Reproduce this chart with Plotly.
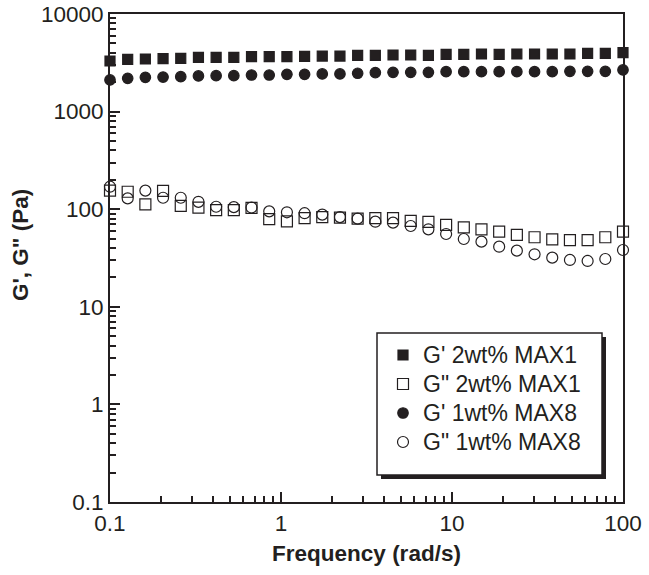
import plotly.graph_objects as go

# frequency sweep (rad/s)
freq = [0.1, 0.1269, 0.1610, 0.2043, 0.2593, 0.3290, 0.4175, 0.5298, 0.6723, 0.8532,
        1.083, 1.374, 1.743, 2.212, 2.807, 3.562, 4.520, 5.736, 7.279, 9.237,
        11.72, 14.87, 18.87, 23.95, 30.39, 38.57, 48.94, 62.10, 78.80, 100.0]

# G' 2wt% MAX1 (filled squares)
gp_max1 = [3300, 3430, 3460, 3490, 3510, 3600, 3600, 3600, 3650, 3650,
           3650, 3680, 3710, 3710, 3770, 3770, 3800, 3800, 3770, 3860,
           3860, 3890, 3860, 3890, 3890, 3890, 3890, 3950, 3950, 4020]
# G'' 2wt% MAX1 (open squares)
gpp_max1 = [155, 151, 112, 154, 108, 104, 98, 98, 103, 79,
            75, 81, 83, 82, 80, 81, 81, 76, 74, 69,
            65, 62, 59, 54.5, 51.6, 49, 48.3, 48.3, 51.6, 59]
# G' 1wt% MAX8 (filled circles)
gp_max8 = [2110, 2190, 2245, 2260, 2280, 2320, 2335, 2335, 2370, 2370,
           2410, 2410, 2430, 2430, 2470, 2510, 2525, 2525, 2525, 2565,
           2565, 2565, 2565, 2565, 2565, 2565, 2585, 2585, 2585, 2670]
# G'' 1wt% MAX8 (open circles)
gpp_max8 = [170, 129, 155, 131, 131, 119, 106, 105, 104, 95,
            93, 91, 88, 83, 80, 74.5, 72.8, 67.3, 62.2, 55.7,
            49.5, 46.5, 41.3, 37.6, 34.5, 31.9, 30.2, 29.5, 30.9, 38.2]

x_ticks = [0.1, 1, 10, 100]
x_labels = ['0.1', '1', '10', '100']
x_minor = [0.2, 0.3, 0.4, 0.5, 0.6, 0.7, 0.8, 0.9,
           2, 3, 4, 5, 6, 7, 8, 9,
           20, 30, 40, 50, 60, 70, 80, 90]
y_ticks = [0.1, 1, 10, 100, 1000, 10000]
y_labels = ['0.1', '1', '10', '100', '1000', '10000']
y_minor = [0.2, 0.3, 0.4, 0.5, 0.6, 0.7, 0.8, 0.9,
           2, 3, 4, 5, 6, 7, 8, 9,
           20, 30, 40, 50, 60, 70, 80, 90,
           200, 300, 400, 500, 600, 700, 800, 900,
           2000, 3000, 4000, 5000, 6000, 7000, 8000, 9000]

ink = '#231f20'
font = 'Liberation Sans, Arial, Helvetica, sans-serif'
fsize = 22.5

W, H = 649, 575
PLOT_L, PLOT_R, PLOT_T, PLOT_B = 110, 623, 14, 502   # plot frame in pixels


def px(x):
    return (x - PLOT_L) / (PLOT_R - PLOT_L)


def py(y):
    return (PLOT_B - y) / (PLOT_B - PLOT_T)


fig = go.Figure()
series = [
    ("G' 2wt% MAX1", gp_max1, 'square', 10),
    ('G" 2wt% MAX1', gpp_max1, 'square-open', 11),
    ("G' 1wt% MAX8", gp_max8, 'circle', 10.5),
    ('G" 1wt% MAX8', gpp_max8, 'circle-open', 11),
]
for name, vals, sym, size in series:
    fig.add_trace(go.Scatter(
        x=freq, y=vals, mode='markers', cliponaxis=False,
        name="<span style='font-size:23px'>%s</span>" % name,
        marker=dict(symbol=sym, size=size, color=ink, line=dict(color=ink, width=1.2)),
    ))

axis_common = dict(
    type='log', showgrid=False, zeroline=False,
    showline=True, linecolor=ink, linewidth=2, mirror=True,
    ticks='inside', ticklen=10, tickwidth=2, tickcolor=ink,
    tickfont=dict(family=font, size=fsize, color=ink),
    tickmode='array', ticklabeloverflow='allow',
)

fig.update_xaxes(
    **axis_common, range=[-1, 2], tickvals=x_ticks, ticktext=x_labels,
    minor=dict(tickmode='array', tickvals=x_minor, ticks='inside', ticklen=6,
               tickwidth=1.5, tickcolor=ink, showgrid=False),
    title=dict(text='<b>Frequency (rad/s)</b>', standoff=10,
               font=dict(family=font, size=fsize, color=ink)),
)
fig.update_yaxes(
    **axis_common, range=[-1, 4], tickvals=y_ticks, ticktext=y_labels,
    minor=dict(tickmode='array', tickvals=y_minor, ticks='inside', ticklen=6,
               tickwidth=1.5, tickcolor=ink, showgrid=False),
)

fig.add_annotation(
    text='<b>G\', G" (Pa)</b>', textangle=-90, showarrow=False,
    xref='paper', yref='paper', x=px(20), y=py(245),
    xanchor='center', yanchor='middle',
    font=dict(family=font, size=fsize, color=ink),
)

# legend frame with drop shadow
fig.add_shape(type='rect', xref='paper', yref='paper', layer='above',
              x0=px(381), x1=px(606), y0=py(479), y1=py(337),
              fillcolor=ink, line=dict(width=0))
fig.add_shape(type='rect', xref='paper', yref='paper', layer='above',
              x0=px(377), x1=px(602), y0=py(475), y1=py(333),
              fillcolor='white', line=dict(color=ink, width=1.5))

fig.update_layout(
    width=W, height=H,
    margin=dict(l=PLOT_L, r=W - PLOT_R, t=PLOT_T, b=H - PLOT_B, autoexpand=False),
    paper_bgcolor='white', plot_bgcolor='white',
    showlegend=True,
    legend=dict(x=px(383), y=py(335.5), xanchor='left', yanchor='top',
                bgcolor='rgba(0,0,0,0)', borderwidth=0,
                font=dict(family=font, size=20, color=ink),
                itemsizing='trace', tracegroupgap=0),
)

# drop the default 8px page margin so the figure fills the window exactly
fig.write_html('out.html', config={'displayModeBar': False},
               post_script="document.body.style.margin='0';")
